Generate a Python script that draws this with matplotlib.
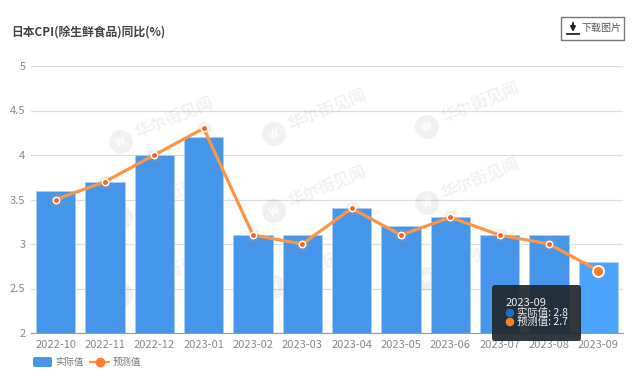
import matplotlib
matplotlib.use('Agg')
import matplotlib.pyplot as plt
from matplotlib.patches import Circle, FancyBboxPatch, Rectangle

plt.rcParams['font.family'] = ['Noto Sans CJK SC', 'DejaVu Sans']

months = ['2022-10', '2022-11', '2022-12', '2023-01', '2023-02', '2023-03',
          '2023-04', '2023-05', '2023-06', '2023-07', '2023-08', '2023-09']
actual = [3.6, 3.7, 4.0, 4.2, 3.1, 3.1, 3.4, 3.2, 3.3, 3.1, 3.1, 2.8]
forecast = [3.5, 3.7, 4.0, 4.3, 3.1, 3.0, 3.4, 3.1, 3.3, 3.1, 3.0, 2.7]
yticks = [2, 2.5, 3, 3.5, 4, 4.5, 5]
ylabels = ['2', '2.5', '3', '3.5', '4', '4.5', '5']

W, H = 640, 376
BLUE = '#3b91e9'
ORANGE = '#fd9446'

fig = plt.figure(figsize=(W / 100, H / 100), dpi=100)

# watermark sits under the chart, bars are slightly see-through
back = fig.add_axes([0, 0, 1, 1])
back.set_xlim(0, W)
back.set_ylim(H, 0)
back.axis('off')
marks = [(121, 142), (274, 134), (427, 127),
         (121, 218), (274, 211), (427, 203),
         (121, 295), (274, 287), (427, 279)]
for wx, wy in marks:
    back.add_patch(Circle((wx, wy), 12, color='black', alpha=0.055, lw=0))
    back.text(wx, wy, 'W', color='white', fontsize=7.5, fontweight='bold', rotation=22,
              ha='center', va='center')
    back.text(wx + 15, wy - 8, '华尔街见闻', color='black', alpha=0.055, fontsize=12, rotation=22,
              rotation_mode='anchor', ha='left', va='center', fontweight='bold')

ax = fig.add_axes([31 / W, 1 - 333 / H, 592 / W, 267 / H], facecolor='none')

x = list(range(len(months)))

# last bar is in hover state, a bit brighter
colors = [BLUE] * 11 + ['#429efb']
ax.bar(x, actual, width=0.8, color=colors, edgecolor='#a9cff6', linewidth=0.6, alpha=0.95, zorder=2)
ax.plot(x, forecast, color=ORANGE, lw=2.3, zorder=3, solid_joinstyle='round')
ax.plot(x[:-1], forecast[:-1], ls='none', marker='o', ms=10, mfc=ORANGE, mec='none', alpha=0.15, zorder=3)
ax.plot(x[:-1], forecast[:-1], ls='none', marker='o', ms=4.6, mfc='#f4622a', mec='white', mew=1.1, zorder=4)
ax.plot(x[-1:], forecast[-1:], ls='none', marker='o', ms=8, mfc='#fd7e23', mec='white', mew=1.3, zorder=5)

ax.set_xlim(-0.5, 11.5)
ax.set_ylim(2, 5)
ax.set_yticks(yticks)
ax.set_yticklabels(ylabels)
ax.set_xticks(x)
ax.set_xticklabels(months)
ax.tick_params(axis='x', length=0, labelsize=8, labelcolor='#8a8a8a', pad=5)
ax.tick_params(axis='y', length=0, labelsize=8, labelcolor='#8a8a8a', pad=4)
ax.grid(axis='y', color='black', alpha=0.13, lw=0.9, zorder=2.5)
for s in ['top', 'right', 'left']:
    ax.spines[s].set_visible(False)
ax.spines['bottom'].set_color('#999999')

# overlay axes in pixel coords for everything outside the plot
over = fig.add_axes([0, 0, 1, 1], facecolor='none')
over.set_xlim(0, W)
over.set_ylim(H, 0)
over.axis('off')

over.text(11, 32.5, '日本CPI(除生鲜食品)同比(%)', fontsize=8.5, color='#444444', va='center', fontweight='bold')

# download button
over.add_patch(Rectangle((560.5, 16.5), 63, 23, fc='white', ec='#777777', lw=1))
over.annotate('', xy=(573, 32), xytext=(573, 23),
              arrowprops=dict(arrowstyle='-|>', color='#222222', lw=1.4, mutation_scale=7, shrinkA=0, shrinkB=0))
over.plot([567, 579], [33.5, 33.5], color='#222222', lw=1.3)
over.text(581, 28, '下载图片', fontsize=7.2, color='#555555', va='center')

# legend
over.add_patch(FancyBboxPatch((33, 357), 19, 10, boxstyle='round,pad=0,rounding_size=2', fc='#4596ea', ec='none'))
over.text(55, 362, '实际值', fontsize=6.8, color='#777777', va='center')
over.plot([90, 109], [362, 362], color=ORANGE, lw=1.5)
over.plot([99.5], [362], marker='o', ms=7, color='#fd7e32', mec='none')
over.text(113, 362, '预测值', fontsize=6.8, color='#777777', va='center')

# tooltip
over.add_patch(FancyBboxPatch((492, 285), 89, 56, boxstyle='round,pad=0,rounding_size=3', fc='#1f262e', ec='none', alpha=0.92, zorder=8))
over.text(506, 303, months[-1], color='#eeeeee', fontsize=8, va='center', zorder=9)
over.add_patch(Circle((510, 313), 3.6, color='#1c6fc4', zorder=9))
over.text(517, 313, f'实际值: {actual[-1]}', color='#eeeeee', fontsize=7.5, va='center', zorder=9)
over.add_patch(Circle((510, 322), 3.6, color='#fd7e23', zorder=9))
over.text(517, 322, f'预测值: {forecast[-1]}', color='#eeeeee', fontsize=7.5, va='center', zorder=9)

fig.savefig('out.png', dpi=100)
